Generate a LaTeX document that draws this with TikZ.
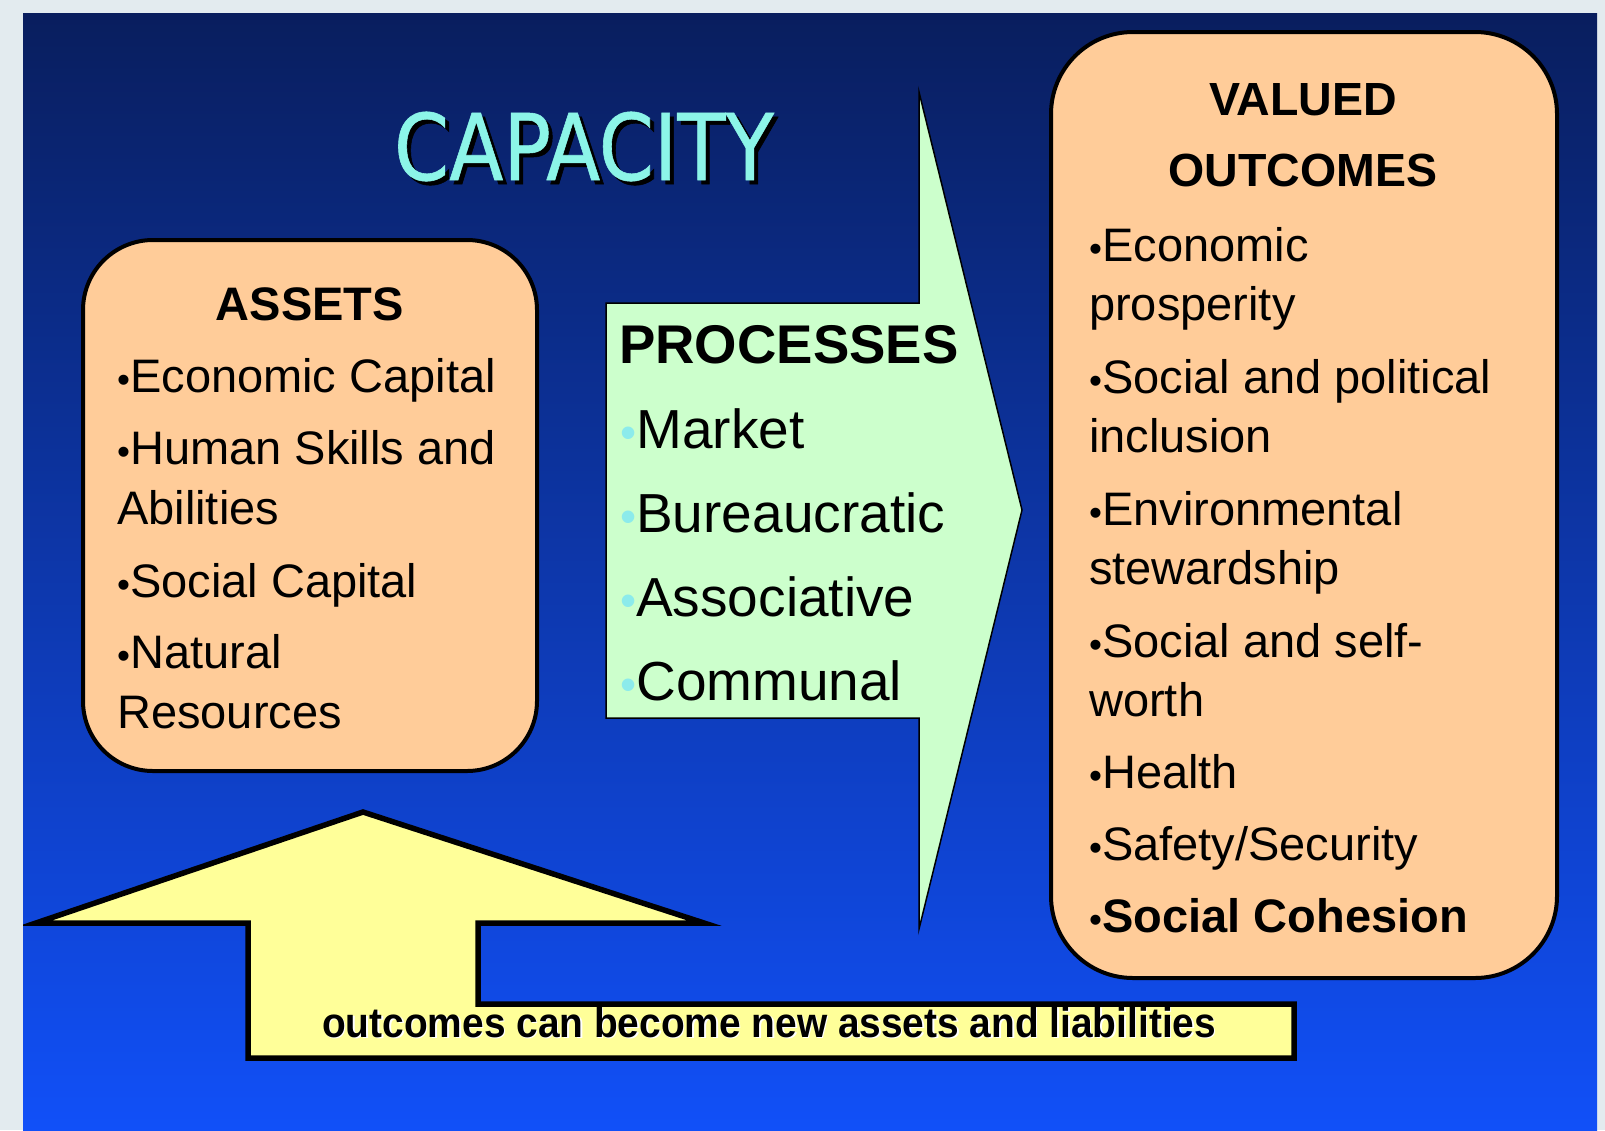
\documentclass[tikz,border=0pt]{standalone}
\usepackage{fontspec}
\setmainfont{Liberation Sans}
\newfontfamily\capfont[FakeStretch=0.86,FakeBold=0.6]{DejaVu Sans}
\newfontfamily\narrowfont[FakeStretch=0.925]{Liberation Sans}
\definecolor{pagegray}{RGB}{227,235,239}
\definecolor{navytop}{RGB}{9,30,94}
\definecolor{bluebot}{RGB}{17,80,248}
\definecolor{peach}{RGB}{255,204,153}
\definecolor{mint}{RGB}{204,255,204}
\definecolor{paleyellow}{RGB}{255,255,153}
\definecolor{aqua}{RGB}{140,245,232}
\definecolor{bulletcyan}{RGB}{140,235,235}
\tikzset{
  roundbox/.style={draw=black, line width=4pt, fill=peach, inner sep=0pt},
  txt/.style={anchor=base west, inner sep=0pt, font=\fontsize{47}{47}\selectfont},
  ttl/.style={anchor=base, inner sep=0pt, font=\fontsize{46.5}{46.5}\selectfont\bfseries},
  ptxt/.style={anchor=base west, inner sep=0pt, font=\fontsize{55}{55}\selectfont},
  capstyle/.style={anchor=base, inner sep=0pt, font=\capfont\fontsize{92}{92}\selectfont},
  notestyle/.style={anchor=base west, inner sep=0pt, font=\narrowfont\fontsize{42}{42}\selectfont\bfseries},
}
\newcommand{\bul}{{\fontsize{37}{37}\selectfont •}}
\newcommand{\pbul}{{\color{bulletcyan}\fontsize{46}{46}\selectfont •}}
\begin{document}
\begin{tikzpicture}[x=1pt,y=-1pt]
\useasboundingbox (0,0) rectangle (1605,1130);
\fill[pagegray] (0,0) rectangle (1605,1130);
\shade[top color=navytop, bottom color=bluebot] (23,13) rectangle (1597,1130);

% title
\node[capstyle, text=black] (capshadow) at (588,184) {CAPACITY};
\node[capstyle, text=aqua] (capacity) at (584,180) {CAPACITY};

% processes arrow
\draw[line width=1.5pt, fill=mint, line join=miter] (606,303) -- (919,303) -- (919,92) -- (1022,510) -- (919,929) -- (919,718) -- (606,718) -- cycle;
\node[anchor=base west, inner sep=0pt, font=\fontsize{54.5}{54.5}\selectfont\bfseries] (procT) at (619,363) {PROCESSES};
\node[ptxt] (p1) at (620,448) {\pbul Market};
\node[ptxt] (p2) at (620,532) {\pbul Bureaucratic};
\node[ptxt] (p3) at (620,616) {\pbul Associative};
\node[ptxt] (p4) at (620,700) {\pbul Communal};

% assets box
\node[roundbox, rounded corners=70pt, minimum width=454pt, minimum height=531pt] (assets) at (310,505.5) {};
\node[ttl, font=\fontsize{47}{47}\selectfont\bfseries] (assetsT) at (310,320) {ASSETS};
\node[txt] (a1) at (117,392) {\bul Economic Capital};
\node[txt] (a2) at (117,464) {\bul Human Skills and};
\node[txt] (a2b) at (117,524) {Abilities};
\node[txt] (a3) at (117,597) {\bul Social Capital};
\node[txt] (a4) at (117,668) {\bul Natural};
\node[txt] (a4b) at (117,728) {Resources};

% outcomes box
\node[roundbox, rounded corners=82pt, minimum width=506pt, minimum height=946pt] (outcomes) at (1304,505) {};
\node[ttl] (outT1) at (1303,115) {VALUED};
\node[ttl] (outT2) at (1303,186) {OUTCOMES};
\node[txt] (o1) at (1089,261) {\bul Economic};
\node[txt] (o1b) at (1089,320) {prosperity};
\node[txt] (o2) at (1089,393) {\bul Social and political};
\node[txt] (o2b) at (1089,452) {inclusion};
\node[txt] (o3) at (1089,525) {\bul Environmental};
\node[txt] (o3b) at (1089,584) {stewardship};
\node[txt] (o4) at (1089,657) {\bul Social and self-};
\node[txt] (o4b) at (1089,716) {worth};
\node[txt] (o5) at (1089,788) {\bul Health};
\node[txt] (o6) at (1089,860) {\bul Safety/Security};
\node[txt] (o7) at (1089,932) {\bul\textbf{Social Cohesion}};

% feedback arrow
\begin{scope}
\clip (23,13) rectangle (1597,1130);
\draw[line width=5.5pt, fill=paleyellow, line join=miter] (36,923) -- (363,812) -- (704,923) -- (478,923) -- (478,1004) -- (1294,1004) -- (1294,1058) -- (248,1058) -- (248,923) -- cycle;
\end{scope}
\node[notestyle, text=white] (noteS) at (323.5,1038.5) {outcomes can become new assets and liabilities};
\node[notestyle, text=black] (note) at (322,1037) {outcomes can become new assets and liabilities};
\end{tikzpicture}
\end{document}
